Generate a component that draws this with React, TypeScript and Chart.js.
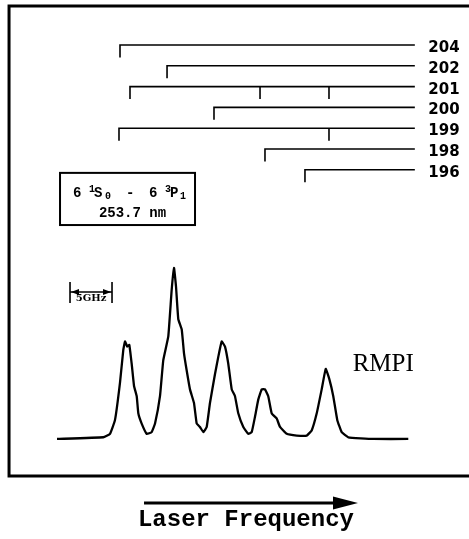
import React, { useEffect, useRef } from 'react';
import { Chart, registerables } from 'chart.js';

Chart.register(...registerables);

const W = 469;
const H = 539;

// RMPI spectrum: laser detuning (GHz) vs normalized ion signal
const specX = [0.0, 5.51, 6.31, 6.90, 7.50, 7.89, 8.10, 8.37, 8.61, 8.89, 9.17, 9.49, 9.68, 10.08, 10.68, 11.27, 11.67, 12.26, 12.65, 13.25, 13.65, 13.93, 14.17, 14.44, 14.85, 15.12, 15.44, 15.83, 16.31, 16.63, 17.02, 17.42, 17.82, 18.21, 18.81, 19.20, 19.61, 20.00, 20.39, 20.80, 21.19, 21.58, 22.18, 22.77, 23.18, 23.57, 23.96, 24.37, 24.76, 25.15, 25.56, 26.15, 26.55, 27.35, 28.54, 29.73, 30.32, 30.92, 31.51, 31.99, 32.42, 32.89, 33.37, 33.89, 34.68, 37.65, 41.82];
const specY = [0.00, 0.01, 0.03, 0.11, 0.33, 0.52, 0.57, 0.54, 0.55, 0.44, 0.31, 0.25, 0.15, 0.09, 0.03, 0.04, 0.09, 0.25, 0.46, 0.60, 0.87, 1.00, 0.89, 0.70, 0.64, 0.50, 0.40, 0.29, 0.21, 0.09, 0.07, 0.04, 0.07, 0.21, 0.38, 0.48, 0.57, 0.54, 0.44, 0.29, 0.25, 0.15, 0.07, 0.03, 0.04, 0.13, 0.23, 0.29, 0.29, 0.25, 0.15, 0.12, 0.07, 0.03, 0.02, 0.02, 0.05, 0.15, 0.29, 0.41, 0.35, 0.25, 0.11, 0.04, 0.01, 0.00, 0.00];

// Isotope ladders (GHz positions of hyperfine components)
const isoLabels = ['204', '202', '201', '200', '199', '198', '196'];
const isoStart = [7.5, 13.1, 8.69, 18.69, 7.38, 24.76, 29.52];
const isoExtraTicks = [[], [], [24.17, 32.38], [], [32.38], [], []];
const ladderEnd = 42.6;
const ladderLabelX = 44.2;
const tickLen = 0.6;

// 5 GHz scale marker
const scaleBarGHz = [1.55, 6.55];
const scaleBarY = [0.918, 0.795, 0.86];
const scaleBarLabel = '5GHz';

// Transition box
const boxX = [0.36, 16.43];
const boxY = [1.556, 1.251];
const boxLine2 = '253.7 nm';

const signalLabel = 'RMPI';
const signalLabelPos = [35.2, 0.433];
const axisTitle = 'Laser Frequency';
const arrowX = [10.36, 32.86, 35.83];
const arrowY = -0.374;
const axisTitleY = -0.474;

// Frame
const frameX = [49.5, -5.71, -5.71, 49.5];
const frameY = [2.532, 2.532, -0.216, -0.216];

const xRange = [-6.786, 49.048];
const yRange = [-0.585, 2.567];
const rowRange = [-2.163, 23.75];

const annotPlugin = {
  id: 'annot',
  afterDatasetsDraw(chart: any) {
    const { ctx, scales } = chart;
    const X = (v: number) => scales.x.getPixelForValue(v);
    const Y = (v: number) => scales.y.getPixelForValue(v);
    const R = (v: number) => scales.yRow.getPixelForValue(v);
    ctx.save();
    ctx.fillStyle = '#000';
    ctx.strokeStyle = '#000';

    // isotope labels
    ctx.font = 'bold 15px "DejaVu Sans"';
    ctx.textAlign = 'left';
    ctx.textBaseline = 'middle';
    isoLabels.forEach((t, i) => ctx.fillText(t, X(ladderLabelX), R(i + 0.15)));

    // transition box
    const bx0 = X(boxX[0]);
    const bx1 = X(boxX[1]);
    const by0 = Y(boxY[0]);
    const by1 = Y(boxY[1]);
    ctx.lineWidth = 2;
    ctx.strokeRect(bx0, by0, bx1 - bx0, by1 - by0);
    const big = 'bold 14px "Liberation Mono"';
    const small = 'bold 10px "Liberation Mono"';
    const base1 = by0 + 24;
    ctx.textAlign = 'left';
    ctx.textBaseline = 'alphabetic';
    const pieces: [string, string, number, number][] = [
      ['6', big, 13, 0],
      ['1', small, 29, -5],
      ['S', big, 34, 0],
      ['0', small, 45, 2],
      ['-', big, 66, 0],
      ['6', big, 89, 0],
      ['3', small, 105, -5],
      ['P', big, 110, 0],
      ['1', small, 120, 2],
    ];
    pieces.forEach(([t, f, dx, dy]) => {
      ctx.font = f;
      ctx.fillText(t, bx0 + dx, base1 + dy);
    });
    ctx.font = big;
    ctx.textAlign = 'center';
    ctx.fillText(boxLine2, (bx0 + bx1) / 2 + 5, by0 + 44);

    // 5 GHz marker
    const sx0 = X(scaleBarGHz[0]);
    const sx1 = X(scaleBarGHz[1]);
    const sy = Y(scaleBarY[2]);
    ctx.lineWidth = 1.5;
    ctx.beginPath();
    ctx.moveTo(sx0, sy);
    ctx.lineTo(sx1, sy);
    ctx.stroke();
    ctx.beginPath();
    ctx.moveTo(sx0 + 1, sy);
    ctx.lineTo(sx0 + 9, sy - 3);
    ctx.lineTo(sx0 + 9, sy + 3);
    ctx.closePath();
    ctx.moveTo(sx1 - 1, sy);
    ctx.lineTo(sx1 - 9, sy - 3);
    ctx.lineTo(sx1 - 9, sy + 3);
    ctx.closePath();
    ctx.fill();
    ctx.font = 'bold 10px "DejaVu Serif"';
    ctx.textAlign = 'center';
    ctx.textBaseline = 'top';
    ctx.fillText(scaleBarLabel, (sx0 + sx1) / 2, sy + 2);

    // RMPI label
    ctx.font = '25px "Liberation Serif"';
    ctx.textAlign = 'left';
    ctx.textBaseline = 'middle';
    ctx.fillText(signalLabel, X(signalLabelPos[0]), Y(signalLabelPos[1]));

    // frequency arrow + title
    const ay = Y(arrowY);
    ctx.lineWidth = 3;
    ctx.beginPath();
    ctx.moveTo(X(arrowX[0]), ay);
    ctx.lineTo(X(arrowX[1]) + 2, ay);
    ctx.stroke();
    ctx.beginPath();
    ctx.moveTo(X(arrowX[1]), ay - 6.5);
    ctx.lineTo(X(arrowX[2]), ay);
    ctx.lineTo(X(arrowX[1]), ay + 6.5);
    ctx.closePath();
    ctx.fill();
    ctx.font = 'bold 24px "Liberation Mono"';
    ctx.textAlign = 'center';
    ctx.textBaseline = 'middle';
    ctx.fillText(axisTitle, X((arrowX[0] + arrowX[2]) / 2 - 0.6), Y(axisTitleY));

    ctx.restore();
  },
};

function ladderPoints() {
  const pts: { x: number; y: number | null }[] = [];
  isoLabels.forEach((_, i) => {
    pts.push({ x: isoStart[i], y: i + tickLen });
    pts.push({ x: isoStart[i], y: i });
    pts.push({ x: ladderEnd, y: i });
    pts.push({ x: ladderEnd, y: null });
    isoExtraTicks[i].forEach((t) => {
      pts.push({ x: t, y: i });
      pts.push({ x: t, y: i + tickLen });
      pts.push({ x: t, y: null });
    });
  });
  return pts;
}

export default function App() {
  const ref = useRef<HTMLCanvasElement | null>(null);
  useEffect(() => {
    if (!ref.current) return;
    const chart = new Chart(ref.current, {
      type: 'line',
      data: {
        datasets: [
          {
            data: specX.map((x, i) => ({ x, y: specY[i] })),
            borderColor: '#000',
            borderWidth: 2.3,
            pointRadius: 0,
            tension: 0.1,
            yAxisID: 'y',
          },
          {
            data: frameX.map((x, i) => ({ x, y: frameY[i] })),
            borderColor: '#000',
            borderWidth: 3,
            pointRadius: 0,
            borderJoinStyle: 'miter',
            yAxisID: 'y',
          },
          {
            data: ladderPoints(),
            borderColor: '#000',
            borderWidth: 1.6,
            pointRadius: 0,
            spanGaps: false,
            yAxisID: 'yRow',
          },
          {
            data: [
              { x: scaleBarGHz[0], y: scaleBarY[0] },
              { x: scaleBarGHz[0], y: scaleBarY[1] },
              { x: scaleBarGHz[0], y: null },
              { x: scaleBarGHz[1], y: scaleBarY[0] },
              { x: scaleBarGHz[1], y: scaleBarY[1] },
            ],
            borderColor: '#000',
            borderWidth: 1.6,
            pointRadius: 0,
            spanGaps: false,
            yAxisID: 'y',
          },
        ],
      } as any,
      options: {
        responsive: false,
        animation: false,
        events: [],
        layout: { padding: 0 },
        plugins: { legend: { display: false }, tooltip: { enabled: false } },
        scales: {
          x: { type: 'linear', min: xRange[0], max: xRange[1], display: false },
          y: { type: 'linear', min: yRange[0], max: yRange[1], display: false },
          yRow: { type: 'linear', min: rowRange[0], max: rowRange[1], reverse: true, display: false },
        },
      } as any,
      plugins: [annotPlugin],
    });
    return () => chart.destroy();
  }, []);
  return (
    <div style={{ position: 'absolute', left: 0, top: 0, width: W, height: H, background: '#fff' }}>
      <canvas ref={ref} width={W} height={H} />
    </div>
  );
}
